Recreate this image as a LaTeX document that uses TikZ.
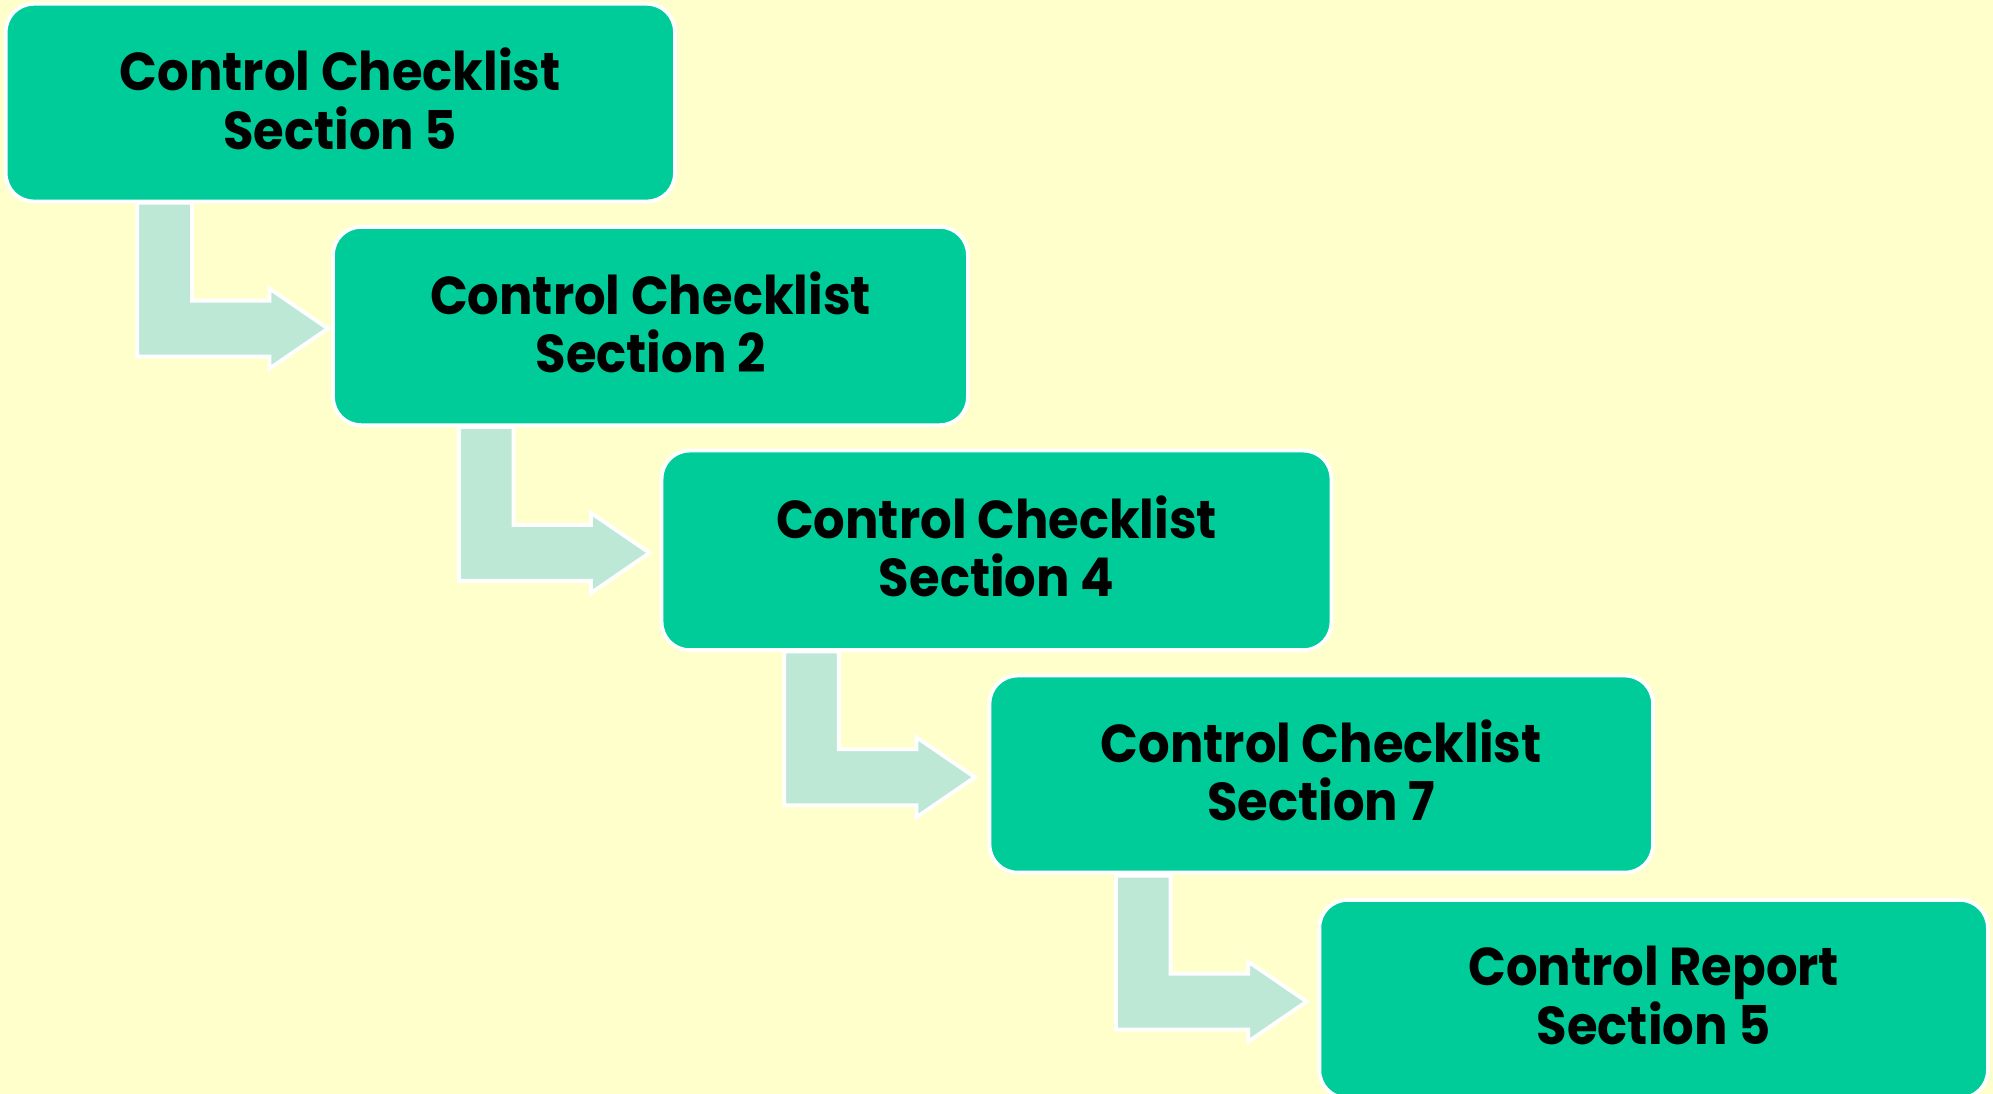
\documentclass[tikz,border=0pt]{standalone}
\usepackage{fontspec}
\setmainfont{Poppins}[FakeStretch=0.93]
\definecolor{bgyellow}{RGB}{255,255,204}
\definecolor{boxgreen}{RGB}{0,204,153}
\definecolor{arrowgreen}{RGB}{190,232,214}
\tikzset{
  stepbox/.style={draw=white, line width=3pt, fill=boxgreen, rounded corners=22pt,
    inner sep=0pt},
  steptext/.style={inner sep=0pt, align=center, text=black,
    font=\fontsize{42}{46}\selectfont\bfseries},
  bentarrow/.style={draw=white, line width=3pt, fill=arrowgreen, line join=miter}
}
\newcommand{\bentarrowat}[2]{%
  \draw[bentarrow] (#1,#2-99) -- (#1+43,#2-99) -- (#1+43,#2-22) -- (#1+104,#2-22)
    -- (#1+104,#2-31.5) -- (#1+150,#2) -- (#1+104,#2+31.5) -- (#1+104,#2+22)
    -- (#1,#2+22) -- cycle;}
\begin{document}
\begin{tikzpicture}[x=1pt,y=-1pt]
  \path[use as bounding box, fill=bgyellow] (0,0) rectangle (1568,860.7);
  \bentarrowat{108}{258.5}
  \bentarrowat{361}{435}
  \bentarrowat{617}{611.5}
  \bentarrowat{878}{788}
  \node[stepbox, minimum width=526.5pt, minimum height=155.5pt] (b1) at (267.75,80.75) {};
  \node[stepbox, minimum width=499.5pt, minimum height=156pt] (b2) at (511.75,256.5) {};
  \node[stepbox, minimum width=527pt, minimum height=157pt] (b3) at (784,433) {};
  \node[stepbox, minimum width=522pt, minimum height=155pt] (b4) at (1039.5,609) {};
  \node[stepbox, minimum width=526pt, minimum height=156pt] (b5) at (1301,786) {};
  \node[steptext] (t1) at ([yshift=3pt]b1.center) {Control Checklist\\Section 5};
  \node[steptext] (t2) at ([yshift=3pt]b2.center) {Control Checklist\\Section 2};
  \node[steptext] (t3) at ([yshift=3pt]b3.center) {Control Checklist\\Section 4};
  \node[steptext] (t4) at ([yshift=3pt]b4.center) {Control Checklist\\Section 7};
  \node[steptext] (t5) at ([yshift=3pt]b5.center) {Control Report\\Section 5};
\end{tikzpicture}
\end{document}
